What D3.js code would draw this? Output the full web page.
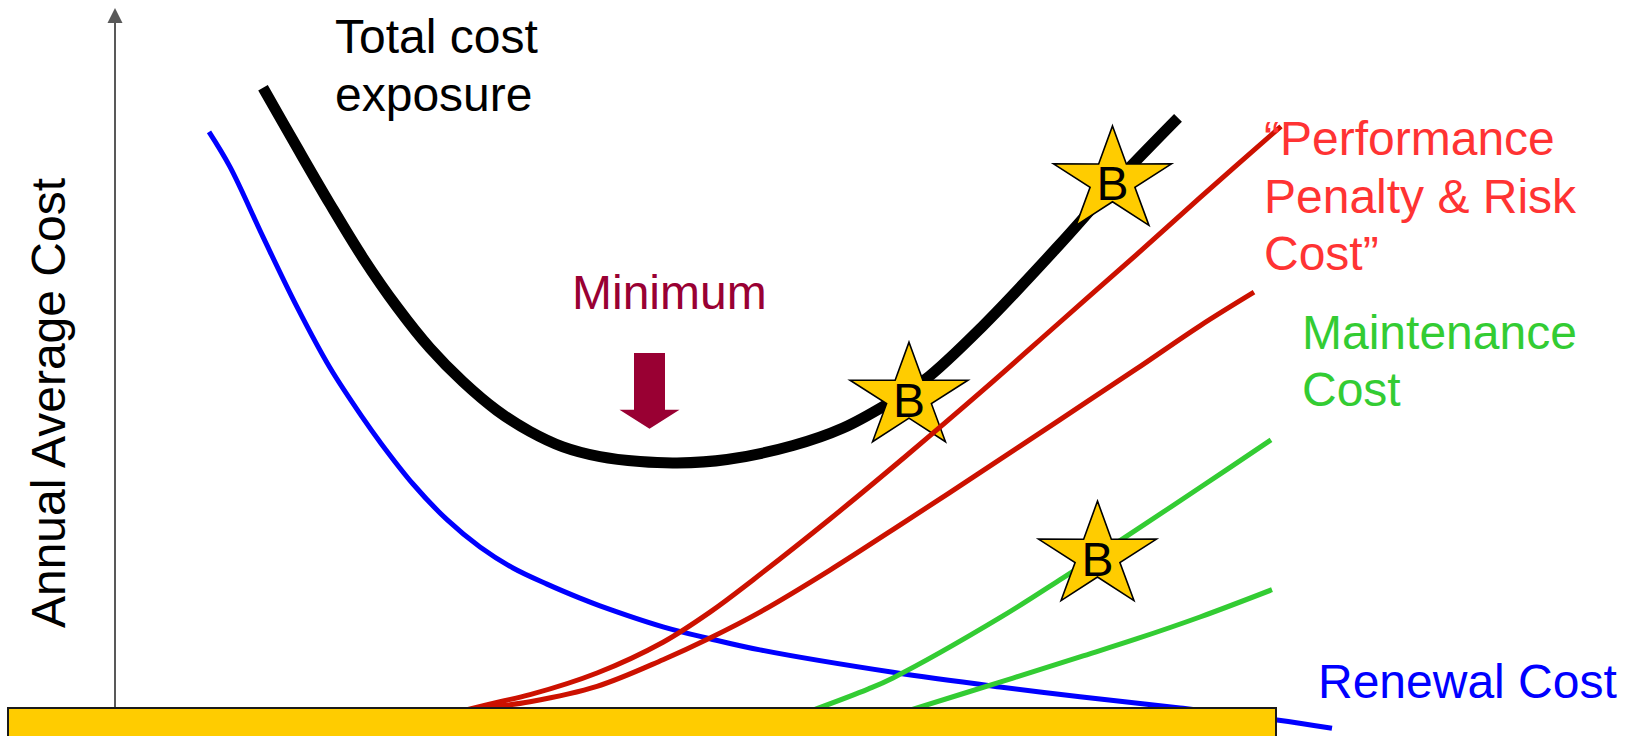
<!DOCTYPE html>
<html><head><meta charset="utf-8">
<script src="https://cdn.jsdelivr.net/npm/d3@7"></script>
<style>html,body{margin:0;padding:0;background:#fff;overflow:hidden}</style>
</head><body>
<svg id="c" width="1630" height="736"></svg>
<script>
// ---- data (x: relative asset age units, y: relative annual average cost units) ----
const totalCost = [[14.8,88.6],[18.2,80.1],[21.5,72.0],[24.8,64.3],[28.2,57.3],[31.5,51.4],[34.8,46.6],[38.2,42.5],[41.5,39.5],[44.8,37.3],[48.5,35.9],[52.5,35.2],[56.2,35.0],[61.2,35.5],[67.8,37.5],[72.8,40.0],[77.2,43.4],[81.0,46.9],[86.8,54.6],[94.4,66.1],[99.8,74.7],[106.3,84.3]];
const renewalCost = [[9.4,82.3],[11.5,77.3],[14.8,67.3],[18.2,57.3],[21.5,48.6],[24.8,41.4],[26.5,38.0],[29.8,32.0],[33.2,26.9],[36.5,23.0],[39.8,20.0],[43.2,17.7],[46.5,15.7],[48.5,14.6],[54.8,11.6],[59.5,9.9],[64.5,8.3],[77.8,5.1],[88.5,3.0],[96.5,1.6],[106.5,0.0],[116.2,-1.7],[121.7,-2.9]];
const penaltyHigh = [[35.0,-0.3],[38.5,0.9],[41.5,1.9],[48.2,5.0],[54.8,9.4],[59.5,13.7],[63.8,18.3],[71.5,27.0],[79.1,36.0],[86.8,45.4],[94.4,55.0],[102.1,64.7],[108.5,72.9],[116.6,83.1]];
const penaltyLow = [[35.0,-0.3],[38.5,0.3],[41.5,0.9],[48.2,3.1],[54.8,6.9],[59.5,10.0],[64.5,13.7],[71.5,19.7],[79.1,26.7],[86.8,33.9],[94.4,41.1],[102.1,48.4],[108.5,54.6],[113.9,59.4]];
const maintHigh = [[69.8,-0.3],[75.3,2.7],[77.8,4.3],[88.5,12.9],[94.8,18.6],[100.5,23.9],[108.5,31.5],[115.6,38.3]];
const maintLow = [[79.5,-0.3],[88.5,3.7],[96.5,7.3],[102.2,9.9],[108.5,13.0],[115.7,16.9]];
const stars = [[79.4,44.4],[99.75,75.3],[98.25,21.7]];
const starLabel = "B";
const minArrow = {x:53.45, top:50.7, head:42.6, tip:39.9, shaftHalf:1.55, headHalf:3.0};
const axisTitle = "Annual Average Cost";

// ---- layout ----
const W = 1630, H = 736;
const x = d3.scaleLinear().domain([0,150]).range([115,1615]);
const y = d3.scaleLinear().domain([0,100]).range([708,8]);
const FONT = "'Liberation Sans', Arial, Helvetica, sans-serif";
const FS = 48;

const svg = d3.select("#c");
svg.append("rect").attr("width",W).attr("height",H).attr("fill","#fff");

// y axis with arrow
svg.append("line").attr("x1",x(0)).attr("x2",x(0)).attr("y1",y(0)).attr("y2",22)
  .attr("stroke","#595959").attr("stroke-width",2);
svg.append("path").attr("d",`M${x(0)-7.5},23 L${x(0)+7.5},23 L${x(0)},8 Z`).attr("fill","#595959");

const line = d3.line().x(d=>x(d[0])).y(d=>y(d[1])).curve(d3.curveCatmullRom.alpha(0.5));
function draw(data,color,w){
  svg.append("path").datum(data).attr("d",line).attr("fill","none")
    .attr("stroke",color).attr("stroke-width",w).attr("stroke-linecap","butt");
}
draw(renewalCost,"#0000FF",5);
draw(maintHigh,"#33CC33",5);
draw(maintLow,"#33CC33",5);
draw(totalCost,"#000000",11);

// stars
const RX = 62, RY = 55, K = 0.38;
function starPts(cx,cy){
  const p=[];
  for(let i=0;i<10;i++){
    const a = -Math.PI/2 + i*Math.PI/5, r = i%2===0?1:K;
    p.push([cx + r*RX*Math.cos(a), cy + r*RY*Math.sin(a)]);
  }
  return p;
}
const closed = d3.line().curve(d3.curveLinearClosed);
stars.forEach(s=>{
  const cx=x(s[0]), cy=y(s[1]);
  svg.append("path").attr("d",closed(starPts(cx,cy))).attr("fill","#FFCC00")
    .attr("stroke","#000").attr("stroke-width",1.6).attr("stroke-linejoin","miter");
  svg.append("text").attr("x",cx).attr("y",cy+19.5).attr("text-anchor","middle")
    .attr("font-family",FONT).attr("font-size",FS).attr("fill","#000").text(starLabel);
});

draw(penaltyHigh,"#CC1100",5);
draw(penaltyLow,"#CC1100",5);

// baseline bar
svg.append("rect").attr("x",8).attr("y",y(0)).attr("width",1268).attr("height",40)
  .attr("fill","#FFCC00").attr("stroke","#1a1a1a").attr("stroke-width",2);

// minimum arrow
const ax=x(minArrow.x), sh=minArrow.shaftHalf*10, hh=minArrow.headHalf*10;
svg.append("path").attr("d",
  `M${ax-sh},${y(minArrow.top)} L${ax+sh},${y(minArrow.top)} L${ax+sh},${y(minArrow.head)} L${ax+hh},${y(minArrow.head)} L${ax},${y(minArrow.tip)} L${ax-hh},${y(minArrow.head)} L${ax-sh},${y(minArrow.head)} Z`)
  .attr("fill","#990033");

// texts
function label(lines,x0,y0,color,dy){
  const t = svg.append("text").attr("font-family",FONT).attr("font-size",FS).attr("fill",color);
  lines.forEach((s,i)=>t.append("tspan").attr("x",x0).attr("y",y0+i*dy).text(s));
}
label(["Total cost","exposure"],335,53,"#000000",58);
label(["Minimum"],572,309,"#990033",58);
label(["\u201CPerformance","Penalty & Risk","Cost\u201D"],1264,155,"#FF3333",57.5);
label(["Maintenance","Cost"],1302,349,"#33CC33",57);
label(["Renewal Cost"],1318,698,"#0000FF",58);

svg.append("text").attr("transform","translate(65,403) rotate(-90)").attr("text-anchor","middle")
  .attr("font-family",FONT).attr("font-size",FS).attr("fill","#000").text(axisTitle);
</script>
</body></html>
